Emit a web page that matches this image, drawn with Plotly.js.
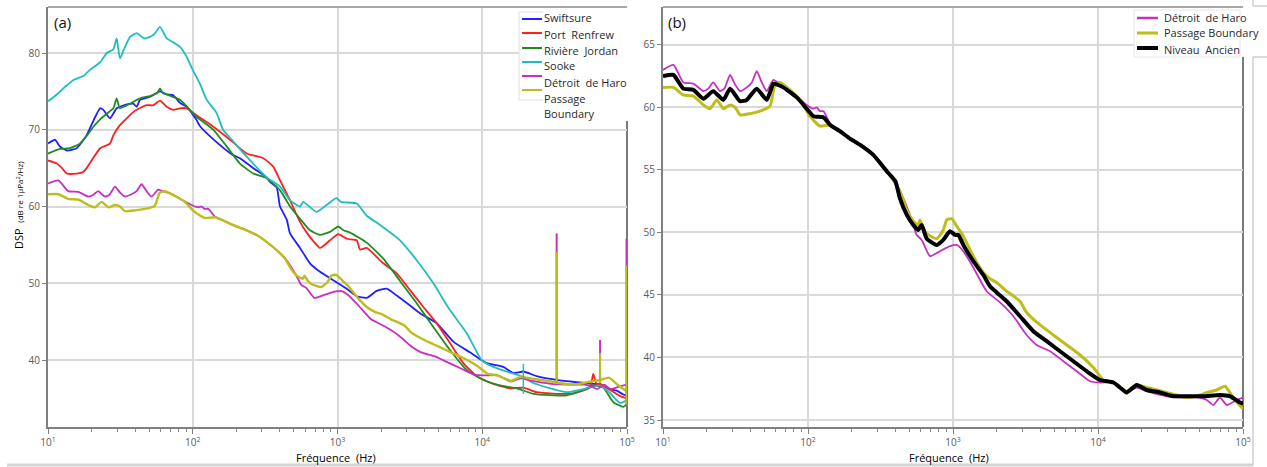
<!DOCTYPE html>
<html>
<head>
<meta charset="utf-8">
<script src="https://cdn.plot.ly/plotly-3.0.1.min.js"></script>
<style>
html, body { margin: 0; padding: 0; background: #ffffff; }
#chart { width: 1267px; height: 467px; }
</style>
</head>
<body>
<div id="chart"></div>
<script>
// ---------- Data (frequency in Hz, DSP in dB re 1µPa²/Hz) ----------
const freqSwiftsure = [10, 11.2, 12.1, 13.5, 15.8, 18.5, 20.6, 22.9, 24.1, 26.8, 29.8, 31.4, 35, 38.8, 41, 43.2, 50.7, 59.4, 66.1, 73.4, 81.6, 90.8, 106, 112, 146, 190, 212, 262, 324, 342, 380, 401, 446, 470, 551, 646, 757, 935, 1158, 1358, 1591, 1866, 2188, 2564, 3170, 3715, 4841, 6310, 8222, 10740, 13990, 16410, 19230, 23770, 32660, 44890, 58480, 65160, 76380, 84920, 94380, 100000];
const dspSwiftsure = [68.2, 68.7, 67.8, 67.3, 67.6, 69.3, 71.2, 72.8, 72.6, 71.5, 72.8, 73.0, 73.3, 73.4, 73.0, 73.9, 74.3, 75.0, 74.6, 74.5, 73.5, 73.0, 71.3, 70.5, 68.4, 66.7, 66.3, 65.0, 63.8, 63.2, 62.5, 60.0, 58.3, 56.5, 54.6, 52.6, 51.5, 50.4, 49.3, 48.3, 48.1, 49.0, 49.3, 48.4, 47.1, 46.1, 44.8, 42.4, 41.0, 39.6, 39.1, 38.3, 38.5, 37.9, 37.4, 37.1, 36.9, 36.8, 36.2, 36.0, 35.5, 35.3];

const freqPortRenfrew = [10, 11.5, 12.5, 13.5, 15.8, 17.5, 18.5, 20, 22.9, 24.1, 26.8, 28.3, 31.4, 35, 38.8, 41, 48.1, 53.4, 59.4, 66.1, 73.4, 81.6, 90.8, 106, 139, 181, 236, 307, 360, 401, 470, 551, 613, 681, 757, 887, 1013, 1158, 1358, 1430, 1591, 2072, 2564, 3170, 3917, 4841, 5984, 7396, 9159, 11920, 15560, 19230, 23770, 40360, 55460, 58480, 61800, 65160, 76380, 89500, 100000];
const dspPortRenfrew = [66.0, 65.6, 65.0, 64.3, 64.3, 64.5, 65.0, 66.0, 67.6, 67.8, 68.2, 69.3, 70.6, 71.5, 72.3, 72.6, 73.2, 73.2, 73.8, 73.0, 72.6, 72.8, 72.8, 71.9, 70.4, 68.7, 66.9, 66.3, 65.2, 63.4, 60.8, 58.0, 56.6, 55.5, 54.6, 55.6, 56.4, 55.8, 55.6, 54.4, 54.6, 52.6, 51.3, 49.1, 46.9, 44.8, 42.2, 39.6, 37.9, 36.9, 36.3, 36.4, 35.8, 35.6, 36.4, 38.2, 36.8, 36.9, 36.1, 35.3, 35.0];

const freqRiviereJordan = [10, 12.1, 14.2, 16.6, 18.5, 20.6, 23, 25.5, 28.3, 29.8, 31.4, 36.9, 43.2, 50.7, 57, 59.4, 62, 66.1, 81.6, 95.7, 106, 139, 172, 212, 262, 324, 401, 470, 551, 646, 757, 887, 1013, 1100, 1220, 1591, 2072, 2704, 3524, 4592, 5984, 7812, 10160, 13270, 17300, 22540, 38280, 49890, 58480, 68590, 80400, 94380, 100000];
const dspRiviereJordan = [66.9, 67.5, 67.6, 68.2, 69.2, 70.4, 71.4, 72.1, 72.8, 74.1, 72.8, 73.4, 74.1, 74.4, 74.8, 75.4, 74.8, 74.6, 73.9, 72.6, 71.7, 70.0, 67.8, 65.6, 64.3, 63.7, 62.1, 60.0, 58.4, 56.9, 56.3, 56.7, 57.4, 56.9, 56.6, 55.3, 53.2, 50.3, 47.4, 44.3, 41.3, 38.7, 37.4, 36.7, 36.3, 35.6, 35.4, 36.1, 36.7, 36.4, 34.5, 33.9, 34.3];

const freqSooke = [10, 11.5, 13.5, 15, 17.5, 19.5, 22.9, 25.5, 28.3, 29.8, 31.4, 33.5, 36.9, 41, 43.2, 46, 50.7, 55, 59.4, 66.1, 73.4, 81.6, 90.8, 100, 112, 125, 146, 162, 190, 236, 324, 401, 470, 551, 580, 715, 840, 983, 1060, 1358, 1591, 1968, 2704, 3524, 4592, 5984, 7812, 9900, 11920, 14700, 19230, 22540, 38280, 52600, 65160, 76380, 89500, 100000];
const dspSooke = [73.7, 74.6, 75.8, 76.5, 77.0, 77.8, 78.8, 80.0, 80.5, 81.9, 79.3, 80.5, 82.1, 82.6, 82.3, 81.9, 82.1, 82.6, 83.4, 81.9, 81.4, 80.8, 79.5, 77.8, 76.0, 73.9, 72.2, 70.0, 68.5, 66.5, 63.8, 62.6, 60.8, 60.0, 60.6, 59.3, 60.2, 61.1, 60.6, 60.4, 58.8, 57.6, 55.6, 53.0, 50.0, 46.5, 43.5, 40.0, 39.1, 38.5, 37.8, 37.0, 35.8, 36.3, 36.7, 35.7, 34.4, 34.8];

const freqHaro = [10, 11.8, 13.8, 16.2, 19.0, 20.5, 22.2, 24.7, 26.5, 29.0, 31.5, 34.0, 37.8, 41, 44.3, 48, 51.9, 57.7, 62, 67.6, 75, 83.6, 98, 109, 115, 121, 128, 142, 166, 195, 229, 282, 349, 431, 505, 532, 562, 608, 694, 813, 953, 1061, 1178, 1380, 1707, 2109, 2608, 3221, 3778, 4667, 5768, 7129, 8810, 10330, 12760, 14190, 15780, 18490, 21670, 29790, 40900, 50470, 56230, 62370, 69340, 77240, 90410, 100000];
const dspHaro = [63.0, 63.4, 62.0, 61.9, 61.3, 61.5, 62.0, 61.3, 61.5, 62.6, 61.8, 61.3, 61.6, 62.0, 62.9, 62.0, 61.3, 62.2, 62.0, 61.8, 61.4, 60.9, 60.2, 59.9, 60.0, 59.7, 59.7, 58.7, 58.1, 57.5, 57.0, 56.2, 54.9, 53.3, 51.4, 50.6, 49.8, 49.4, 48.1, 48.5, 48.9, 49.0, 48.5, 47.2, 45.3, 44.4, 43.3, 41.8, 41.0, 40.5, 39.7, 38.9, 38.1, 38.0, 38.0, 37.6, 37.2, 37.6, 37.3, 36.9, 36.8, 36.8, 36.6, 36.2, 36.8, 36.2, 36.6, 36.8];

const freqBoundary = [10, 11.8, 13.8, 16.2, 19.0, 21.1, 23.5, 26.1, 29.0, 31.5, 34.0, 39.8, 46.7, 54.7, 57, 59.2, 64.1, 75.1, 88.1, 103, 121, 142, 166, 195, 229, 282, 349, 431, 480, 532, 576, 592, 620, 659, 772, 857, 905, 979, 1061, 1178, 1380, 1618, 1799, 2001, 2345, 2897, 3221, 3981, 4920, 6081, 7516, 9290, 10890, 12760, 14190, 15780, 18490, 21670, 29790, 40900, 50470, 56230, 65770, 75110, 85700, 97960, 100000];
const dspBoundary = [61.6, 61.6, 61.0, 60.9, 60.2, 59.9, 60.6, 59.9, 60.2, 60.0, 59.4, 59.5, 59.7, 60.1, 61.0, 61.8, 62.0, 61.4, 60.6, 59.3, 58.5, 58.6, 58.1, 57.5, 57.0, 56.2, 54.9, 53.3, 51.8, 50.9, 50.6, 51.0, 50.4, 49.9, 49.5, 50.2, 51.0, 51.1, 50.5, 49.7, 48.1, 46.8, 46.3, 46.0, 45.3, 44.5, 43.6, 42.6, 41.8, 41.0, 40.2, 39.2, 38.2, 38.0, 37.6, 37.3, 37.8, 37.6, 37.2, 36.8, 37.0, 37.2, 37.4, 37.7, 36.8, 36.0, 35.9];

const freqAncien = [10, 11.8, 13.8, 16.2, 19.0, 22.2, 26.1, 29.0, 34.0, 37.8, 44.3, 51.9, 57.7, 62, 67.6, 83.6, 98, 109, 128, 142, 166, 195, 229, 282, 349, 400, 431, 480, 532, 576, 608, 659, 772, 857, 953, 1033, 1089, 1178, 1380, 1618, 1799, 2001, 2345, 2897, 3581, 4427, 5470, 6761, 8356, 10330, 12760, 14190, 15780, 18490, 21670, 26790, 33040, 40900, 53200, 69340, 81340, 95310, 100000];
const dspAncien = [62.5, 62.6, 61.5, 61.4, 60.7, 61.3, 60.6, 61.5, 60.5, 60.6, 61.5, 60.6, 61.9, 61.8, 61.6, 60.8, 59.9, 59.3, 59.2, 58.6, 58.1, 57.5, 57.0, 56.2, 54.9, 54.1, 52.7, 51.4, 50.6, 50.2, 50.6, 49.5, 49.0, 49.4, 50.1, 49.8, 49.8, 49.0, 47.7, 46.6, 45.7, 45.2, 44.5, 43.3, 42.1, 41.3, 40.5, 39.7, 38.9, 38.2, 38.0, 37.6, 37.2, 37.8, 37.4, 37.2, 36.9, 36.9, 36.9, 37.0, 36.9, 36.4, 36.3];

// narrow spikes seen in panel (a)
const spikeFreq = [32660, 65160, 99300];
const spikeBase = [37.0, 37.0, 34.2];
const spikeHaroTop = [56.5, 42.6, 55.8];
const spikeBoundaryTop = [54.1, 40.9, 52.3];
const spikeSookeFreq = [19230];
const spikeSookeLow = [35.6];
const spikeSookeTop = [39.5];

// legend labels
const legendLabelsA = ['Swiftsure', 'Port  Renfrew', 'Rivière  Jordan', 'Sooke', 'Détroit  de Haro', 'Passage', 'Boundary'];
const legendLabelsB = ['Détroit  de Haro', 'Passage Boundary', 'Niveau  Ancien'];

// axis ticks
const xTickVals = [10, 100, 1000, 10000, 100000];
const xTickText = ['10<sup>1</sup>', '10<sup>2</sup>', '10<sup>3</sup>', '10<sup>4</sup>', '10<sup>5</sup>'];
const yTickValsA = [40, 50, 60, 70, 80];
const yTickValsB = [35, 40, 45, 50, 55, 60, 65];

// ---------- Styles ----------
const COL = {
  swift: '#1f1fff', port: '#ff1f1f', jordan: '#218c21', sooke: '#1fbdbd',
  haro: '#c52fc5', boundary: '#bdbd1c', ancien: '#000000'
};
const FONT = 'Open Sans';
const W = 1267, H = 467;
const TICKFONT = { family: FONT, size: 10, color: '#595959' };

const minorVals = [];
[10, 100, 1000, 10000].forEach(d => { for (let m = 2; m <= 9; m++) minorVals.push(d * m); });

function spikeXY(freqs, lows, tops) {
  const xs = [], ys = [];
  for (let i = 0; i < freqs.length; i++) {
    xs.push(freqs[i], freqs[i], null);
    ys.push(lows[i], tops[i], null);
  }
  return { xs, ys };
}
const spH = spikeXY(spikeFreq, spikeBase, spikeHaroTop);
const spB = spikeXY(spikeFreq, spikeBase, spikeBoundaryTop);
const spS = spikeXY(spikeSookeFreq, spikeSookeLow, spikeSookeTop);

function curve(x, y, name, color, width, xa, ya, smooth) {
  return {
    type: 'scatter', mode: 'lines', x: x, y: y, name: name,
    line: { color: color, width: width, shape: smooth ? 'spline' : 'linear', smoothing: smooth ? 0.5 : 0 },
    xaxis: xa, yaxis: ya, showlegend: false,
    hoverinfo: 'skip', connectgaps: false
  };
}

const traces = [
  curve(freqSwiftsure, dspSwiftsure, 'Swiftsure', COL.swift, 1.8, 'x', 'y', true),
  curve(freqPortRenfrew, dspPortRenfrew, 'Port Renfrew', COL.port, 1.8, 'x', 'y', true),
  curve(freqRiviereJordan, dspRiviereJordan, 'Rivière Jordan', COL.jordan, 1.8, 'x', 'y', true),
  curve(freqSooke, dspSooke, 'Sooke', COL.sooke, 1.8, 'x', 'y', true),
  curve(freqHaro, dspHaro, 'Détroit de Haro', COL.haro, 1.8, 'x', 'y', true),
  curve(freqBoundary, dspBoundary, 'Passage Boundary', COL.boundary, 2.4, 'x', 'y', true),
  curve(spS.xs, spS.ys, 'Sooke (pic)', COL.sooke, 1.5, 'x', 'y', false),
  curve(spH.xs, spH.ys, 'Détroit de Haro (pic)', COL.haro, 2, 'x', 'y', false),
  curve(spB.xs, spB.ys, 'Passage Boundary (pic)', COL.boundary, 2, 'x', 'y', false),

  curve(freqHaro, dspHaro, 'Détroit de Haro', COL.haro, 1.8, 'x2', 'y2', true),
  curve(freqBoundary, dspBoundary, 'Passage Boundary', COL.boundary, 3, 'x2', 'y2', true),
  curve(freqAncien, dspAncien, 'Niveau Ancien', COL.ancien, 4, 'x2', 'y2', true)
];

const yDom = [40 / H, 460 / H];

function xAxis(domain, anchor) {
  return {
    type: 'log', range: [1, 5], domain: domain, anchor: anchor,
    tickmode: 'array', tickvals: xTickVals, ticktext: xTickText,
    ticks: 'outside', ticklen: 5, tickwidth: 1, tickcolor: '#7f7f7f',
    tickfont: TICKFONT,
    showgrid: true, gridcolor: '#d9d9d9', gridwidth: 1.5,
    showline: true, linecolor: '#808080', linewidth: 2,
    zeroline: false, fixedrange: true,
    minor: { tickmode: 'array', tickvals: minorVals, ticks: 'outside', ticklen: 3, tickcolor: '#8a8a8a', showgrid: false }
  };
}
function yAxis(range, vals, anchor) {
  return {
    range: range, domain: yDom, anchor: anchor,
    tickmode: 'array', tickvals: vals,
    ticks: 'outside', ticklen: 4, tickwidth: 1, tickcolor: '#7f7f7f',
    tickfont: TICKFONT,
    showgrid: true, gridcolor: '#d9d9d9', gridwidth: 1.5,
    showline: true, linecolor: '#808080', linewidth: 2,
    zeroline: false, fixedrange: true
  };
}

// pixel helpers for decorations (paper coordinates)
const px = v => v / W;
const py = v => (H - v) / H;

const shapes = [
  { type: 'line', xref: 'x domain', yref: 'y domain', x0: 0, x1: 1, y0: 1, y1: 1, line: { color: '#a6a6a6', width: 2 } },
  { type: 'line', xref: 'x domain', yref: 'y domain', x0: 1, x1: 1, y0: 0, y1: 0.729, line: { color: '#7a7a7a', width: 2 }, layer: 'below' },
  { type: 'line', xref: 'x2 domain', yref: 'y2 domain', x0: 0, x1: 1, y0: 1, y1: 1, line: { color: '#a6a6a6', width: 2 } },
  { type: 'line', xref: 'x2 domain', yref: 'y2 domain', x0: 1, x1: 1, y0: 0, y1: 0.881, line: { color: '#7a7a7a', width: 2 }, layer: 'below' },
  { type: 'rect', xref: 'paper', yref: 'paper', x0: px(519), x1: px(628), y0: py(121), y1: py(8), fillcolor: '#ffffff', line: { width: 0 } },
  { type: 'line', xref: 'paper', yref: 'paper', x0: px(519), x1: px(519), y0: py(100), y1: py(12), line: { color: '#e0e0e0', width: 1 } },
  { type: 'line', xref: 'paper', yref: 'paper', x0: px(519), x1: px(543), y0: py(12), y1: py(12), line: { color: '#e0e0e0', width: 1 } },
  { type: 'line', xref: 'paper', yref: 'paper', x0: px(519), x1: px(543), y0: py(100), y1: py(100), line: { color: '#e0e0e0', width: 1 } },
  { type: 'rect', xref: 'paper', yref: 'paper', x0: px(1134), x1: px(1244), y0: py(57), y1: py(8), fillcolor: '#ffffff', line: { width: 0 } },
  { type: 'rect', xref: 'paper', yref: 'paper', x0: px(1134), x1: px(1240), y0: py(57), y1: py(10), fillcolor: 'rgba(0,0,0,0)', line: { color: '#e6e6e6', width: 1 } },
  { type: 'line', xref: 'paper', yref: 'paper', x0: px(1253), x1: px(1253), y0: 0.004, y1: py(57), line: { color: '#cfcfcf', width: 1.5 } },
  { type: 'line', xref: 'paper', yref: 'paper', x0: px(1253), x1: 1, y0: py(57), y1: py(57), line: { color: '#cfcfcf', width: 1.5 } },
  { type: 'line', xref: 'paper', yref: 'paper', x0: px(1253), x1: px(1253), y0: py(6), y1: 1, line: { color: '#cfcfcf', width: 1.5 } },
  { type: 'line', xref: 'paper', yref: 'paper', x0: px(1253), x1: 1, y0: py(6), y1: py(6), line: { color: '#cfcfcf', width: 1.5 } },
  { type: 'line', xref: 'paper', yref: 'paper', x0: px(7), x1: px(1253), y0: 2 / H, y1: 2 / H, line: { color: '#d4d4d4', width: 3 } }
];

const legendA = [
  { c: COL.swift, w: 2, y: 19 }, { c: COL.port, w: 2, y: 33 }, { c: COL.jordan, w: 2, y: 48 },
  { c: COL.sooke, w: 2, y: 62 }, { c: COL.haro, w: 2, y: 76 }, { c: COL.boundary, w: 2, y: 90 }
];
legendA.forEach(s => shapes.push({ type: 'line', xref: 'paper', yref: 'paper', x0: px(522), x1: px(542), y0: py(s.y), y1: py(s.y), line: { color: s.c, width: s.w } }));
const legendB = [ { c: COL.haro, w: 2.5, y: 18 }, { c: COL.boundary, w: 3, y: 33 }, { c: COL.ancien, w: 4, y: 48 } ];
legendB.forEach(s => shapes.push({ type: 'line', xref: 'paper', yref: 'paper', x0: px(1137), x1: px(1158), y0: py(s.y), y1: py(s.y), line: { color: s.c, width: s.w } }));

const annotations = [
  { text: '(a)', xref: 'paper', yref: 'paper', x: px(52), y: py(22), xanchor: 'left', yanchor: 'middle', showarrow: false, font: { family: FONT, size: 15, color: '#111' } },
  { text: '(b)', xref: 'paper', yref: 'paper', x: px(666), y: py(22), xanchor: 'left', yanchor: 'middle', showarrow: false, font: { family: FONT, size: 15, color: '#111' } },
  { text: 'DSP  <span style="font-size:8px">(dB re 1µPa<sup>2</sup>/Hz)</span>', xref: 'paper', yref: 'paper', x: px(18), y: py(205), xanchor: 'center', yanchor: 'middle', textangle: -90, showarrow: false, font: { family: FONT, size: 11, color: '#000' } },
  { text: 'Fréquence  (Hz)', xref: 'paper', yref: 'paper', x: px(336), y: py(457), xanchor: 'center', yanchor: 'middle', showarrow: false, font: { family: FONT, size: 11, color: '#000' } },
  { text: 'Fréquence  (Hz)', xref: 'paper', yref: 'paper', x: px(949), y: py(457), xanchor: 'center', yanchor: 'middle', showarrow: false, font: { family: FONT, size: 11, color: '#000' } }
];
const legendTextYA = [18, 34, 50, 66, 82, 98, 114];
legendLabelsA.forEach((t, i) => annotations.push({ text: t, xref: 'paper', yref: 'paper', x: px(542), y: py(legendTextYA[i]), xanchor: 'left', yanchor: 'middle', showarrow: false, font: { family: FONT, size: 11, color: '#2a2a2a' } }));
const legendTextYB = [17, 33, 49];
legendLabelsB.forEach((t, i) => annotations.push({ text: t, xref: 'paper', yref: 'paper', x: px(1162), y: py(legendTextYB[i]), xanchor: 'left', yanchor: 'middle', showarrow: false, font: { family: FONT, size: 11, color: '#2a2a2a' } }));

const layout = {
  width: W, height: H,
  margin: { l: 0, r: 0, t: 0, b: 0 },
  paper_bgcolor: '#ffffff', plot_bgcolor: '#ffffff',
  font: { family: FONT, size: 11, color: '#000' },
  showlegend: false,
  xaxis: xAxis([48 / W, 627 / W], 'y'),
  yaxis: yAxis([31.27, 86.0], yTickValsA, 'x'),
  xaxis2: xAxis([663 / W, 1243 / W], 'y2'),
  yaxis2: yAxis([34.44, 68.03], yTickValsB, 'x2'),
  shapes: shapes,
  annotations: annotations
};

Plotly.newPlot('chart', traces, layout, { displayModeBar: false });
</script>
</body>
</html>
